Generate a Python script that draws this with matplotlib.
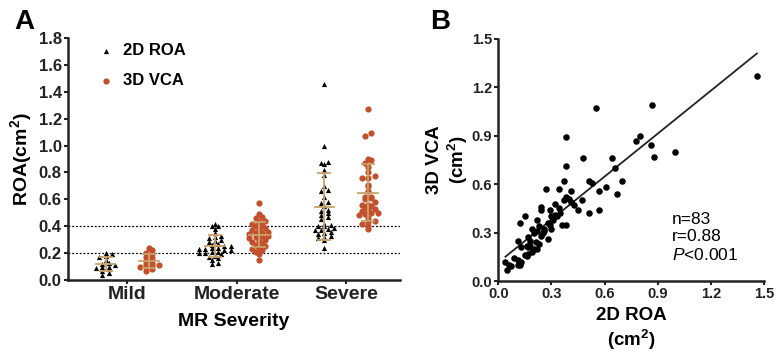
import matplotlib
matplotlib.use("Agg")
import matplotlib.pyplot as plt
import numpy as np

plt.rcParams['font.family'] = ['Liberation Sans', 'DejaVu Sans']
plt.rcParams['mathtext.fontset'] = 'custom'
plt.rcParams['mathtext.rm'] = 'Liberation Sans'
plt.rcParams['mathtext.it'] = 'Liberation Sans:italic'
plt.rcParams['mathtext.bf'] = 'Liberation Sans:bold'

RED = '#c2502c'
TAN = '#c9a46a'

# ---- panel A data ----
severity = ['Mild', 'Moderate', 'Severe']
roa_2d = [
    [0.04, 0.05, 0.07, 0.08, 0.09, 0.10, 0.10, 0.11, 0.12, 0.13, 0.15, 0.17, 0.18, 0.19, 0.20],
    [0.12, 0.13, 0.15, 0.16, 0.17, 0.18, 0.19, 0.20, 0.20, 0.21, 0.21, 0.22, 0.22, 0.23, 0.23,
     0.24, 0.24, 0.25, 0.25, 0.26, 0.27, 0.28, 0.29, 0.30, 0.31, 0.32, 0.33, 0.35, 0.38, 0.40,
     0.40, 0.42],
    [0.24, 0.30, 0.31, 0.32, 0.33, 0.34, 0.35, 0.36, 0.37, 0.37, 0.38, 0.39, 0.40, 0.40, 0.41,
     0.42, 0.45, 0.47, 0.48, 0.50, 0.51, 0.52, 0.55, 0.57, 0.58, 0.62, 0.66, 0.67, 0.70, 0.78,
     0.82, 0.86, 0.87, 0.88, 1.00, 1.46],
]
vca_3d = [
    [0.07, 0.08, 0.10, 0.10, 0.11, 0.11, 0.12, 0.13, 0.14, 0.16, 0.17, 0.19, 0.20, 0.22, 0.24],
    [0.15, 0.19, 0.21, 0.22, 0.23, 0.24, 0.25, 0.26, 0.27, 0.28, 0.29, 0.30, 0.31, 0.32, 0.33,
     0.33, 0.34, 0.35, 0.35, 0.36, 0.37, 0.38, 0.39, 0.40, 0.41, 0.42, 0.43, 0.44, 0.46, 0.47,
     0.49, 0.57],
    [0.38, 0.40, 0.42, 0.43, 0.44, 0.46, 0.48, 0.49, 0.50, 0.50, 0.51, 0.52, 0.53, 0.54, 0.55,
     0.56, 0.56, 0.58, 0.60, 0.61, 0.62, 0.62, 0.66, 0.70, 0.71, 0.76, 0.76, 0.77, 0.80, 0.84,
     0.87, 0.89, 0.90, 1.07, 1.09, 1.27],
]

# ---- panel B data (2D ROA, 3D VCA pairs) ----
pair_2d = [1.46, 0.55, 0.87, 0.38, 0.80, 0.78, 0.86, 1.00, 0.88, 0.48, 0.64, 0.38, 0.66, 0.37,
           0.51, 0.53, 0.70, 0.61, 0.57, 0.41, 0.67, 0.34, 0.27, 0.37, 0.38, 0.40, 0.41, 0.47,
           0.32, 0.43, 0.24, 0.24, 0.34, 0.45, 0.51, 0.57, 0.29, 0.32, 0.33, 0.38, 0.36, 0.15,
           0.22, 0.28, 0.29, 0.12, 0.23, 0.19, 0.20, 0.22, 0.26, 0.26, 0.30, 0.17, 0.18, 0.24,
           0.28, 0.11, 0.13, 0.16, 0.17, 0.18, 0.20, 0.22, 0.23, 0.15, 0.16, 0.17, 0.09, 0.11,
           0.13, 0.11, 0.04, 0.06, 0.07, 0.05, 0.31, 0.35, 0.21, 0.25, 0.19, 0.12, 0.30]
pair_3d = [1.27, 1.07, 1.09, 0.89, 0.90, 0.87, 0.84, 0.80, 0.77, 0.76, 0.76, 0.71, 0.70, 0.62,
           0.62, 0.61, 0.62, 0.58, 0.56, 0.56, 0.54, 0.57, 0.57, 0.50, 0.52, 0.51, 0.49, 0.50,
           0.48, 0.47, 0.46, 0.44, 0.45, 0.44, 0.42, 0.44, 0.44, 0.41, 0.40, 0.35, 0.35, 0.40,
           0.38, 0.36, 0.35, 0.36, 0.34, 0.32, 0.30, 0.31, 0.32, 0.31, 0.32, 0.27, 0.25, 0.28,
           0.26, 0.25, 0.21, 0.22, 0.21, 0.22, 0.20, 0.20, 0.23, 0.16, 0.155, 0.17, 0.14, 0.13,
           0.12, 0.10, 0.12, 0.10, 0.09, 0.07, 0.38, 0.42, 0.24, 0.30, 0.18, 0.10, 0.40]
fit_slope = 0.887
fit_intercept = 0.115
stats_text = "n=83\nr=0.88\n$\\mathit{P}$<0.001"


def swarm_x(center, values, bin_w=0.028, dx=0.058):
    vals = np.asarray(values)
    bins = np.floor(vals / bin_w).astype(int)
    xs = np.zeros(len(vals))
    for b in np.unique(bins):
        idx = np.where(bins == b)[0]
        n = len(idx)
        xs[idx] = center + (np.arange(n) - (n - 1) / 2.0) * dx
    return xs


fig = plt.figure(figsize=(7.78, 3.64), dpi=100)
axA = fig.add_axes([0.0874, 0.2308, 0.4266, 0.6648])
axB = fig.add_axes([0.6405, 0.228, 0.3415, 0.665])

# ---------------- panel A ----------------
off = 0.2
for i in range(len(severity)):
    v2 = roa_2d[i]
    v3 = vca_3d[i]
    axA.scatter(swarm_x(i - off, v2), v2, marker='^', s=14, color='black', linewidths=0,
                zorder=3, label='2D ROA' if i == 0 else None)
    axA.scatter(swarm_x(i + off, v3), v3, marker='o', s=20, color=RED, linewidths=0,
                zorder=3, label='3D VCA' if i == 0 else None)
    for pos, vals in ((i - off, v2), (i + off, v3)):
        m = np.mean(vals)
        sd = np.std(vals, ddof=1)
        axA.errorbar(pos, m, yerr=sd, color=TAN, capsize=5, elinewidth=1.3,
                     capthick=1.3, zorder=4)
        axA.plot([pos - 0.09, pos + 0.09], [m, m], color=TAN, lw=1.3, zorder=4)

axA.axhline(0.2, color='black', ls=(0, (1.5, 1.5)), lw=0.9, zorder=1)
axA.axhline(0.4, color='black', ls=(0, (1.5, 1.5)), lw=0.9, zorder=1)

axA.set_xlim(-0.543, 2.49)
axA.set_ylim(0, 1.8)
axA.set_yticks(np.arange(0, 1.81, 0.2))
axA.set_yticklabels(['%.1f' % t for t in np.arange(0, 1.81, 0.2)], fontsize=12, fontweight='bold')
axA.set_xticks(range(len(severity)))
axA.set_xticklabels(severity, fontsize=14, fontweight='bold')
axA.set_xlabel('MR Severity', fontsize=14, fontweight='bold', labelpad=7)
axA.set_ylabel('ROA(cm$^\\mathbf{2}$)', fontsize=14, fontweight='bold', labelpad=3)
axA.legend(loc='upper left', bbox_to_anchor=(0.05, 1.04), frameon=False, handlelength=0.8,
           handletextpad=0.6, labelspacing=0.9, prop={'size': 12, 'weight': 'bold'})

# ---------------- panel B ----------------
axB.scatter(pair_2d, pair_3d, s=22, color='black', linewidths=0, zorder=3)
xl = np.array([min(pair_2d), max(pair_2d)])
axB.plot(xl, fit_slope * xl + fit_intercept, color='#222222', lw=1.3, zorder=2)
axB.set_xlim(0, 1.5)
axB.set_ylim(0, 1.5)
ticksB = np.arange(0, 1.51, 0.3)
axB.set_xticks(ticksB)
axB.set_yticks(ticksB)
axB.set_xticklabels(['%.1f' % t for t in ticksB], fontsize=10.5, fontweight='bold')
axB.set_yticklabels(['%.1f' % t for t in ticksB], fontsize=10.5, fontweight='bold')
axB.set_xlabel('2D ROA\n(cm$^\\mathbf{2}$)', fontsize=13.5, fontweight='bold', labelpad=4)
axB.set_ylabel('3D VCA\n(cm$^\\mathbf{2}$)', fontsize=13.5, fontweight='bold')
axB.yaxis.set_label_coords(-0.105, 0.5)
axB.text(0.98, 0.43, stats_text, fontsize=12.5, va='top', ha='left', linespacing=1.2)

for ax in (axA, axB):
    for s in ('top', 'right'):
        ax.spines[s].set_visible(False)
    for s in ('left', 'bottom'):
        ax.spines[s].set_linewidth(1.8)
        ax.spines[s].set_color('#222222')
    ax.tick_params(direction='out', length=3, width=1.5, pad=1.5,
                   colors='#222222', labelcolor='#222222')

fig.text(0.018, 0.94, 'A', fontsize=20, fontweight='bold', va='center')
fig.text(0.553, 0.94, 'B', fontsize=20, fontweight='bold', va='center')

fig.savefig('out.png', dpi=100)
